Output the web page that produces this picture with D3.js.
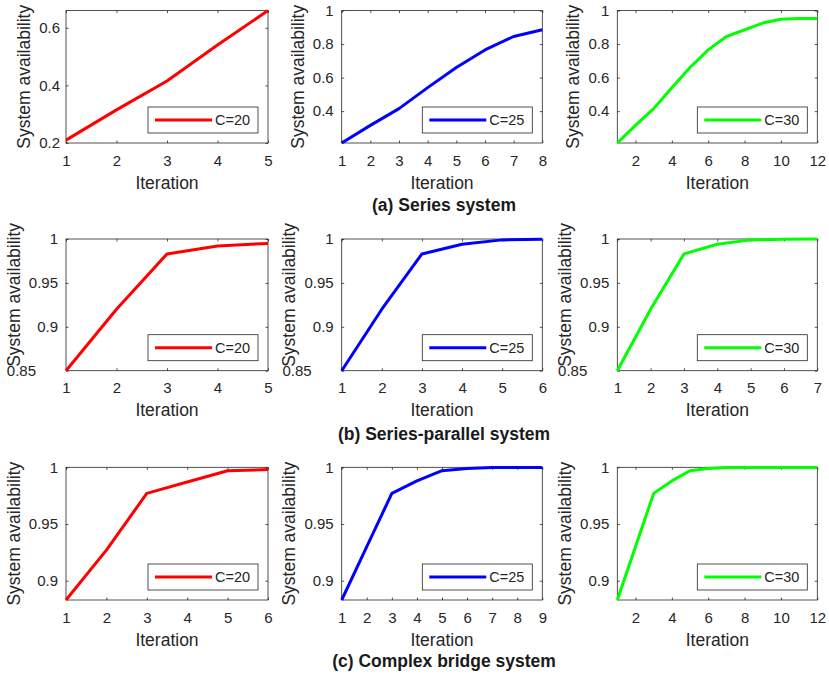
<!DOCTYPE html>
<html>
<head>
<meta charset="utf-8">
<script src="https://cdn.jsdelivr.net/npm/d3@7"></script>
<style>
  body { margin: 0; background: #fff; }
  svg { font-family: "Liberation Sans", Arial, sans-serif; }
</style>
</head>
<body>
<svg width="829" height="674"></svg>
<script>
// values
const legendLabels = ['C=20', 'C=25', 'C=30']
const captions = ['(a) Series system', '(b) Series-parallel system', '(c) Complex bridge system']

const seriesA20 = [0.21, 0.315, 0.415, 0.54, 0.66]
const seriesA25 = [0.21, 0.315, 0.415, 0.54, 0.66, 0.765, 0.845, 0.885]
const seriesA30 = [0.21, 0.315, 0.415, 0.54, 0.66, 0.765, 0.845, 0.885, 0.925, 0.948, 0.952, 0.952]

const seriesB20 = [0.85, 0.92, 0.983, 0.992, 0.995]
const seriesB25 = [0.85, 0.92, 0.983, 0.994, 0.999, 0.9998]
const seriesB30 = [0.85, 0.92, 0.983, 0.994, 0.999, 0.9998, 0.9999]

const seriesC20 = [0.883, 0.927, 0.977, 0.987, 0.997, 0.998]
const seriesC25 = [0.883, 0.93, 0.977, 0.988, 0.997, 0.999, 0.9998, 0.9999, 0.9999]
const seriesC30 = [0.883, 0.93, 0.977, 0.988, 0.997, 0.999, 0.9998, 0.9999, 0.9999, 0.9999, 0.9999, 0.9999]

const yTicksA1 = [0.2, 0.4, 0.6]
const yTicksA = [0.4, 0.6, 0.8, 1]
const yTicksB = [0.85, 0.9, 0.95, 1]
const yTicksC = [0.9, 0.95, 1]
const yLimA1 = [0.2, 0.66]
const yLimA = [0.21, 1]
const yLimB = [0.85, 1]
const yLimC = [0.883, 1]
const xTicksEven = [2, 4, 6, 8, 10, 12]

const COLORS = ['#ff0000', '#0000ff', '#00ff00']
const INK = '#262626'

// subplot boxes
const COLS = [[66, 268], [341.7, 542.3], [617.3, 817.3]]
const ROWS = [[10.5, 143], [239, 370.7], [467.3, 600]]
const CAPTION_Y = [210.5, 440, 666.5]
const YLABEL_SHIFT = [0, -10, 0]

function intTicks(n) { return d3.range(1, n + 1) }

const rows = [
  { series: [seriesA20, seriesA25, seriesA30], yLims: [yLimA1, yLimA, yLimA], yTicks: [yTicksA1, yTicksA, yTicksA],
    xTicks: [intTicks(5), intTicks(8), xTicksEven] },
  { series: [seriesB20, seriesB25, seriesB30], yLims: [yLimB, yLimB, yLimB], yTicks: [yTicksB, yTicksB, yTicksB],
    xTicks: [intTicks(5), intTicks(6), intTicks(7)] },
  { series: [seriesC20, seriesC25, seriesC30], yLims: [yLimC, yLimC, yLimC], yTicks: [yTicksC, yTicksC, yTicksC],
    xTicks: [intTicks(6), intTicks(9), xTicksEven] }
]

const svg = d3.select('svg')
const fmt = d3.format('~g')

rows.forEach((row, r) => {
  row.series.forEach((vals, c) => {
    const [x0, x1] = COLS[c]
    const [y0, y1] = ROWS[r]
    const data = vals.map((v, i) => ({ it: i + 1, v }))

    const x = d3.scaleLinear().domain([1, vals.length]).range([x0, x1])
    const y = d3.scaleLinear().domain(row.yLims[c]).range([y1, y0])

    const g = svg.append('g').attr('class', 'panel')

    g.append('g')
      .attr('transform', `translate(0,${y1})`)
      .call(d3.axisBottom(x).tickValues(row.xTicks[c]).tickFormat(fmt).tickSizeInner(-2.5).tickSizeOuter(0).tickPadding(12))
    const yAxis = g.append('g')
      .attr('transform', `translate(${x0},0)`)
      .call(d3.axisLeft(y).tickValues(row.yTicks[c]).tickFormat(fmt).tickSizeInner(-2.5).tickSizeOuter(0).tickPadding(r === 0 && c === 0 ? 6 : 8))
    g.append('g')
      .attr('transform', `translate(0,${y0})`)
      .call(d3.axisTop(x).tickValues(row.xTicks[c]).tickFormat('').tickSizeInner(-2.5).tickSizeOuter(0))
    g.append('g')
      .attr('transform', `translate(${x1},0)`)
      .call(d3.axisRight(y).tickValues(row.yTicks[c]).tickFormat('').tickSizeInner(-2.5).tickSizeOuter(0))

    g.selectAll('.domain').remove()
    g.selectAll('.tick line').attr('stroke', INK).attr('stroke-width', 0.8)
    g.selectAll('.tick text').attr('fill', INK).attr('font-size', 15)
      .attr('font-family', '"Liberation Sans", Arial, sans-serif')

    g.append('rect')
      .attr('x', x0).attr('y', y0)
      .attr('width', x1 - x0).attr('height', y1 - y0)
      .attr('fill', 'none').attr('stroke', INK).attr('stroke-width', 0.8)

    g.append('path')
      .datum(data)
      .attr('fill', 'none')
      .attr('stroke', COLORS[c])
      .attr('stroke-width', 3)
      .attr('stroke-linejoin', 'round')
      .attr('d', d3.line().x(d => x(d.it)).y(d => y(d.v)))

    // ylabel sits left of the widest tick label
    const tickLeft = d3.min(yAxis.selectAll('.tick text').nodes(), n => n.getBBox().x) + x0
    g.append('text')
      .attr('transform', `translate(${tickLeft - 9},${(y0 + y1) / 2 + YLABEL_SHIFT[r]}) rotate(-90)`)
      .attr('text-anchor', 'middle')
      .attr('font-size', 17.5)
      .attr('fill', INK)
      .text('System availability')

    // the bottom label of row (b) is drawn further left in the original
    if (r === 1) {
      yAxis.select('.tick text').attr('dx', -22)
    }

    g.append('text')
      .attr('x', (x0 + x1) / 2)
      .attr('y', y1 + 45.5)
      .attr('text-anchor', 'middle')
      .attr('font-size', 17.5)
      .attr('fill', INK)
      .text('Iteration')

    // legend
    const lw = 110, lh = 26
    const lx = x1 - 10 - lw, ly = y1 - 10 - lh
    const leg = g.append('g').attr('transform', `translate(${lx},${ly})`)
    leg.append('rect')
      .attr('width', lw).attr('height', lh)
      .attr('fill', '#fff').attr('stroke', INK).attr('stroke-width', 0.8)
    leg.append('line')
      .attr('x1', 7).attr('x2', 64)
      .attr('y1', lh / 2).attr('y2', lh / 2)
      .attr('stroke', COLORS[c]).attr('stroke-width', 3)
    leg.append('text')
      .attr('x', 67).attr('y', lh / 2)
      .attr('dy', '0.35em')
      .attr('font-size', 14.5)
      .attr('fill', INK)
      .text(legendLabels[c])
  })

  svg.append('text')
    .attr('x', 444)
    .attr('y', CAPTION_Y[r])
    .attr('text-anchor', 'middle')
    .attr('font-size', 17.5)
    .attr('font-weight', 'bold')
    .attr('fill', '#1a1a1a')
    .text(captions[r])
})
</script>
</body>
</html>
